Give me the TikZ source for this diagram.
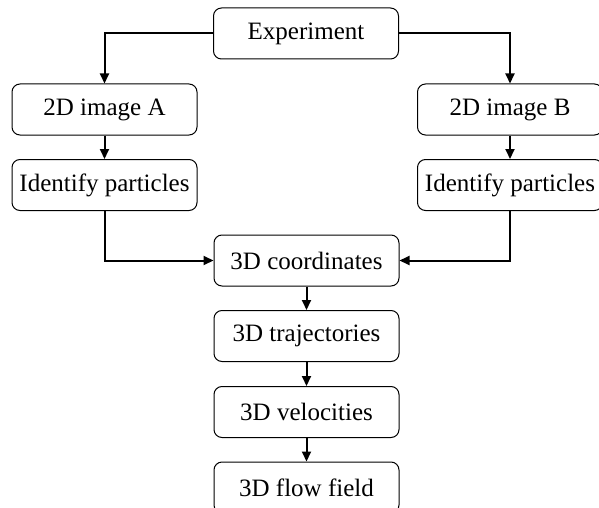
\documentclass[tikz,border=0pt]{standalone}
\usepackage{fontspec}
\setmainfont{Liberation Serif}
\usetikzlibrary{arrows.meta}
\tikzset{
  stagebox/.style={draw, rounded corners=8pt, line width=1pt,
    minimum width=185pt, minimum height=51pt, inner sep=0pt,
    font=\fontsize{25}{30}\selectfont},
  flow/.style={-{Triangle[length=10pt,width=9pt]}, line width=2pt}
}
\begin{document}
\begin{tikzpicture}[x=1pt,y=1pt]
      \useasboundingbox (0,0) rectangle (599,-508);
      \draw
        (306,-33.5) node[stagebox] (exp){Experiment}
        (104.5,-109.5) node[stagebox] (imgA){2D image A}
        (104.5,-185) node[stagebox] (idA){Identify particles}
        (510,-109.5) node[stagebox] (imgB){2D image B}
        (510,-185) node[stagebox] (idB){Identify particles}
        (306.5,-260.5) node[stagebox] (coord){3D coordinates}
        (306.5,-336) node[stagebox] (traj){3D trajectories}
        (306.5,-412) node[stagebox] (vel){3D velocities}
        (306.5,-487.5) node[stagebox] (field){3D flow field};
      \begin{scope}[flow]
        \draw (exp.west) -| (imgA.north);
        \draw (exp.east) -| (imgB.north);
        \draw (imgA) to (idA);
        \draw (imgB) to (idB);
        \draw (idA.south) |- (coord.west);
        \draw (idB.south) |- (coord.east);
        \draw (coord) to (traj);
        \draw (traj) to (vel);
        \draw (vel) to (field);
      \end{scope}
    \end{tikzpicture}
\end{document}
